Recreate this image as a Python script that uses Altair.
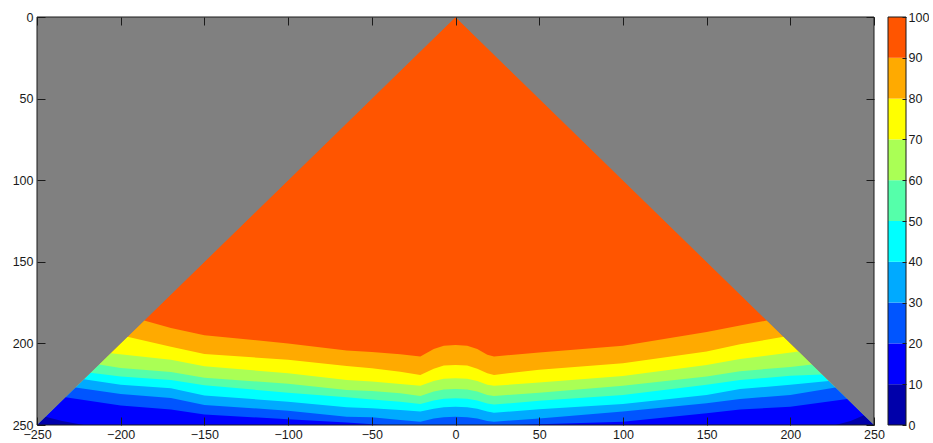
import altair as alt
import pandas as pd

# ---------------- data ----------------
X_MIN, X_MAX = -250, 250
Y_MIN, Y_MAX = 0, 250
X_TICKS = [-250, -200, -150, -100, -50, 0, 50, 100, 150, 200, 250]
Y_TICKS = [0, 50, 100, 150, 200, 250]
CBAR_TICKS = [0, 10, 20, 30, 40, 50, 60, 70, 80, 90, 100]

BAND_LO = [0, 10, 20, 30, 40, 50, 60, 70, 80, 90]
BAND_HI = [10, 20, 30, 40, 50, 60, 70, 80, 90, 100]
BAND_COLORS = ["#0000AA", "#0000FF", "#0055FF", "#00AAFF", "#00FFFF",
               "#55FFAA", "#AAFF55", "#FFFF00", "#FFAA00", "#FF5500"]
OUTSIDE_COLOR = "#808080"
TEXT_COLOR = "#1a1a1a"
FONT = "Liberation Sans"

# contour boundaries (depth y at which the value falls below each level)
LEVEL_90_X = [-186, -170, -150, -100, -65, -50, -33, -21, -13, -7, 0, 7, 13, 19, 23, 50, 100, 150, 170, 186]
LEVEL_90_Y = [186, 190.5, 195, 200, 204.4, 205.3, 206.6, 208, 203.5, 201.5, 201, 201.5, 203.5, 207, 208, 205.6, 201.5, 193, 189, 186]

LEVEL_80_X = [-196, -170, -150, -100, -65, -50, -33, -21, -13, -7, 0, 7, 13, 19, 23, 50, 100, 150, 170, 196]
LEVEL_80_Y = [196, 202, 206.5, 210, 213.8, 215.2, 217.3, 219.3, 215.5, 213.6, 213.2, 213.6, 215.5, 218.3, 219.3, 216.2, 212.1, 205, 200.5, 196]

LEVEL_70_X = [-206, -170, -150, -100, -65, -50, -33, -21, -13, -7, 0, 7, 13, 19, 23, 50, 100, 150, 170, 205]
LEVEL_70_Y = [206, 210, 214, 218.3, 222.4, 223.4, 224.9, 226, 223, 221.7, 221.4, 221.7, 223, 225.3, 226, 224, 219.9, 213.2, 209.5, 205]

LEVEL_60_X = [-213, -200, -170, -150, -100, -65, -50, -33, -21, -13, -7, 0, 7, 13, 19, 23, 50, 100, 150, 170, 200, 213]
LEVEL_60_Y = [213, 215, 217.5, 221, 224.8, 228.5, 229.1, 230.6, 232.2, 229.5, 228.3, 228, 228.3, 229.5, 231.6, 232.2, 230.2, 226, 220.3, 217, 214.5, 213]

LEVEL_50_X = [-218, -200, -170, -150, -100, -65, -50, -33, -21, -13, -7, 0, 7, 13, 19, 23, 50, 100, 150, 170, 200, 219]
LEVEL_50_Y = [218, 220.3, 222.5, 225.7, 230.2, 233, 234.3, 235.7, 237.1, 235, 233.9, 233.6, 233.9, 235, 236.8, 237.5, 235.1, 231.6, 225.4, 222.5, 219.8, 219]

LEVEL_40_X = [-222, -200, -170, -150, -100, -65, -50, -33, -21, -13, -7, 0, 7, 13, 19, 23, 50, 100, 150, 170, 200, 223]
LEVEL_40_Y = [222, 225.4, 227.5, 232, 235.7, 239.2, 239.8, 240.8, 241.8, 240, 239.1, 238.8, 239.1, 240, 241.8, 242.5, 240.4, 237.1, 231.6, 228, 225.4, 223]

LEVEL_30_X = [-227, -200, -170, -150, -100, -65, -50, -33, -21, -13, -7, 0, 7, 13, 19, 23, 50, 100, 150, 170, 200, 227]
LEVEL_30_Y = [227, 231, 233.5, 237.7, 241.2, 245, 245.3, 247, 248, 246, 245.3, 245, 245.3, 246, 247.6, 248, 246, 241.8, 236.7, 234, 231.6, 227]

LEVEL_20_X = [-233, -200, -170, -150, -100, -65, -43, 38, 50, 100, 150, 170, 200, 234]
LEVEL_20_Y = [233, 238, 240.5, 243.5, 246.5, 248.5, 250, 250, 249.5, 248, 242.8, 240.5, 238.8, 234]

LEVEL_10_X = [-245, -235, -222, 227, 236, 244]
LEVEL_10_Y = [245, 247.5, 250, 250, 247.5, 244]

BOUNDARIES = [
    (90, LEVEL_90_X, LEVEL_90_Y),
    (80, LEVEL_80_X, LEVEL_80_Y),
    (70, LEVEL_70_X, LEVEL_70_Y),
    (60, LEVEL_60_X, LEVEL_60_Y),
    (50, LEVEL_50_X, LEVEL_50_Y),
    (40, LEVEL_40_X, LEVEL_40_Y),
    (30, LEVEL_30_X, LEVEL_30_Y),
    (20, LEVEL_20_X, LEVEL_20_Y),
    (10, LEVEL_10_X, LEVEL_10_Y),
]

# ---------------- scales / axes ----------------
xs = alt.Scale(domain=[X_MIN, X_MAX], nice=False, zero=False)
ys = alt.Scale(domain=[Y_MIN, Y_MAX], reverse=True, nice=False, zero=False)

common_axis = dict(
    domain=False, grid=False, title=None, zindex=1,
    tickColor=TEXT_COLOR, tickWidth=1, tickSize=8, offset=-8,
    labelFont=FONT, labelFontSize=12.5, labelColor=TEXT_COLOR,
)
x_axis_bottom = alt.Axis(orient="bottom", values=X_TICKS, labelPadding=3, labelFlush=False, **common_axis)
y_axis_left = alt.Axis(orient="left", values=Y_TICKS, labelPadding=4, **common_axis)
x_axis_top = alt.Axis(orient="top", values=X_TICKS, labels=False, **common_axis)
y_axis_right = alt.Axis(orient="right", values=Y_TICKS, labels=False, **common_axis)


def area_layer(df, color, x_axis=None, y_axis=None):
    return alt.Chart(df).mark_area(color=color, interpolate="linear", opacity=1).encode(
        x=alt.X("x:Q", scale=xs, axis=x_axis),
        y=alt.Y("y:Q", scale=ys, axis=y_axis),
        y2=alt.Y2("y2:Q"),
    )


layers = []

# background of the whole plot (outside the domain)
bg = pd.DataFrame({"x": [X_MIN, X_MAX], "y": [Y_MIN, Y_MIN], "y2": [Y_MAX, Y_MAX]})
layers.append(area_layer(bg, OUTSIDE_COLOR, x_axis_bottom, y_axis_left))

# inside of the domain (value 90-100)
tri = pd.DataFrame({"x": [X_MIN, 0, X_MAX], "y": [Y_MAX, Y_MIN, Y_MAX], "y2": [Y_MAX] * 3})
layers.append(area_layer(tri, BAND_COLORS[9]))

# contour bands, painted from top level downwards
for level, bx, by in BOUNDARIES:
    xv = [X_MIN] + bx + [X_MAX]
    yv = [Y_MAX] + by + [Y_MAX]
    df = pd.DataFrame({"x": xv, "y": yv, "y2": [Y_MAX] * len(xv)})
    layers.append(area_layer(df, BAND_COLORS[level // 10 - 1]))

# outside region (gray) on top to keep the triangle edges clean
left_out = pd.DataFrame({"x": [X_MIN, 0], "y": [Y_MIN, Y_MIN], "y2": [Y_MAX, Y_MIN]})
right_out = pd.DataFrame({"x": [0, X_MAX], "y": [Y_MIN, Y_MIN], "y2": [Y_MIN, Y_MAX]})
layers.append(area_layer(left_out, OUTSIDE_COLOR, x_axis_top, y_axis_right))
layers.append(area_layer(right_out, OUTSIDE_COLOR))

# frame
frame = pd.DataFrame({"x": [X_MIN], "x2": [X_MAX], "y": [Y_MIN], "y2": [Y_MAX]})
layers.append(
    alt.Chart(frame).mark_rect(filled=False, stroke=TEXT_COLOR, strokeWidth=1).encode(
        x=alt.X("x:Q", scale=xs, axis=None), x2="x2:Q",
        y=alt.Y("y:Q", scale=ys, axis=None), y2="y2:Q",
    )
)

main = alt.layer(*layers).resolve_axis(x="independent", y="independent").properties(
    width=837, height=408
)

# ---------------- colorbar ----------------
bands = pd.DataFrame({"lo": BAND_LO, "hi": BAND_HI, "band": [str(v) for v in BAND_LO]})
cscale = alt.Scale(domain=[CBAR_TICKS[0], CBAR_TICKS[-1]], nice=False, zero=False)
cbar_rects = alt.Chart(bands).mark_rect().encode(
    x=alt.value(0), x2=alt.value("width"),
    y=alt.Y("lo:Q", scale=cscale, axis=alt.Axis(
        orient="right", values=CBAR_TICKS, domain=False, grid=False, title=None, zindex=1,
        tickColor=TEXT_COLOR, tickSize=4, offset=-4, labelPadding=2,
        labelFont=FONT, labelFontSize=12.5, labelColor=TEXT_COLOR)),
    y2="hi:Q",
    color=alt.Color("band:N", scale=alt.Scale(domain=[str(v) for v in BAND_LO], range=BAND_COLORS), legend=None),
)
cframe = pd.DataFrame({"lo": [CBAR_TICKS[0]], "hi": [CBAR_TICKS[-1]]})
cbar_frame = alt.Chart(cframe).mark_rect(filled=False, stroke=TEXT_COLOR, strokeWidth=1).encode(
    x=alt.value(0), x2=alt.value("width"),
    y=alt.Y("lo:Q", scale=cscale), y2="hi:Q",
)
cbar = alt.layer(cbar_rects, cbar_frame).properties(width=18, height=408)

chart = alt.hconcat(main, cbar, spacing=14, bounds="flush").properties(
    padding={"left": 12, "top": 11, "right": 0, "bottom": 0},
    background="white",
).configure_view(strokeOpacity=0)

chart.save("out.html", embed_options={"renderer": "svg", "actions": False})
